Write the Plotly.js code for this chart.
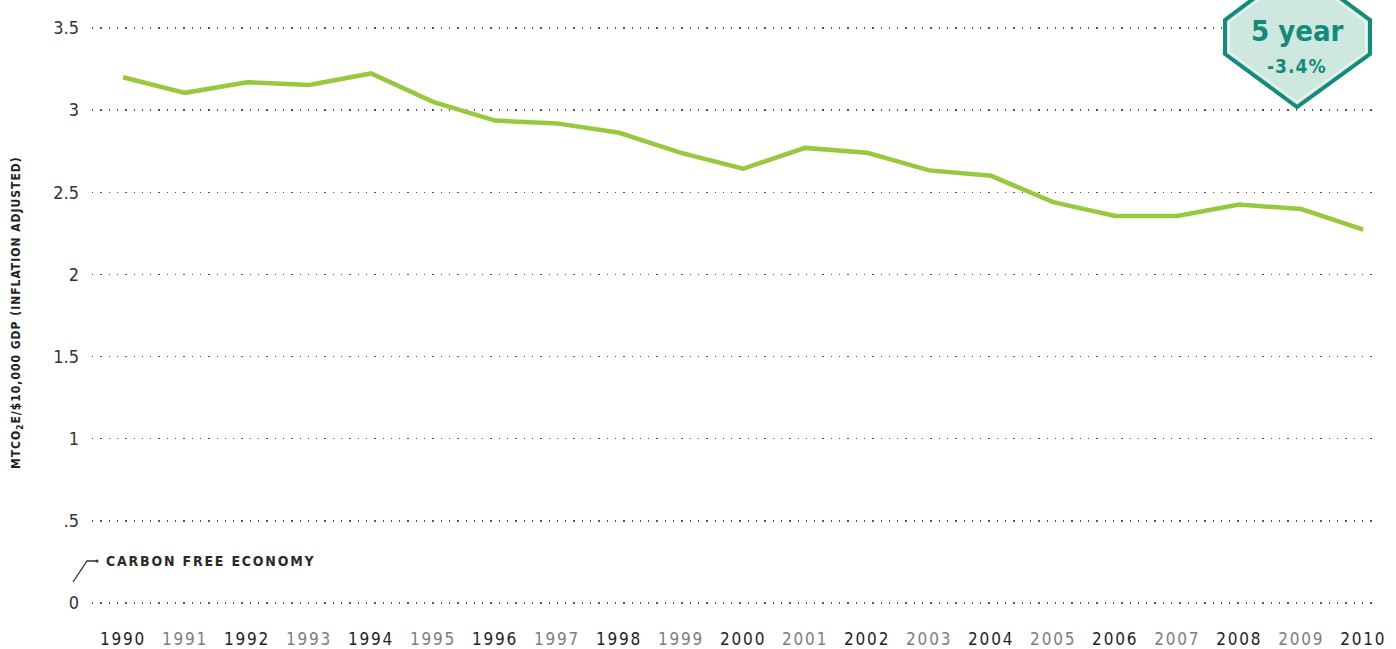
<!DOCTYPE html>
<html><head><meta charset="utf-8">
<script src="https://cdn.plot.ly/plotly-3.0.1.min.js"></script>
<style>html,body{margin:0;padding:0;background:#fff}#chart{width:1396px;height:649px}</style>
</head><body><div id="chart"></div>
<script>
var years = [1990,1991,1992,1993,1994,1995,1996,1997,1998,1999,2000,2001,2002,2003,2004,2005,2006,2007,2008,2009,2010];
var intensity = [3.20,3.105,3.17,3.153,3.223,3.05,2.936,2.919,2.862,2.74,2.643,2.77,2.74,2.633,2.60,2.44,2.356,2.356,2.425,2.398,2.273];
var yTickVals = [0,0.5,1,1.5,2,2.5,3,3.5];
var yTickText = ['0','.5','1','1.5','2','2.5','3','3.5'];
var xTickText = years.map(function(y,i){
  var c = (i%2===0) ? '#1e1e1e' : '#7d7d7d';
  return '<span style="fill:'+c+';letter-spacing:1.8px">'+y+'</span>';
});
var badgeTitle = '5 year';
var badgeValue = '-3.4%';
var baseFont = "'DejaVu Sans Condensed', 'DejaVu Sans', sans-serif";

function px(X){return (X-92)/1283;}
function py(Y){return (608-Y)/585;}
function path(pts){return 'M'+pts.map(function(p){return px(p[0])+','+py(p[1]);}).join(' L')+' Z';}

var trace = {
  x: years, y: intensity, type:'scatter', mode:'lines',
  line:{color:'#96c93d', width:4.5, shape:'linear'},
  hoverinfo:'skip'
};

var layout = {
  width:1396, height:649,
  margin:{l:92, r:21, t:23, b:41},
  paper_bgcolor:'#fff', plot_bgcolor:'#fff',
  showlegend:false,
  xaxis:{
    range:[1989.5, 2010.19], tickvals:years, ticktext:xTickText,
    showgrid:false, zeroline:false, showline:false,
    ticks:'', ticklabelstandoff:19,
    tickfont:{family:baseFont, size:17, color:'#1e1e1e', stretch:'condensed'}
  },
  yaxis:{
    range:[-0.03,3.53], tickvals:yTickVals, ticktext:yTickText,
    showgrid:true, gridcolor:'#555', gridwidth:1.3, griddash:'1.3,7',
    zeroline:false, showline:false, ticks:'', ticklabelstandoff:12,
    tickfont:{family:baseFont, size:18, color:'#333', stretch:'condensed'}
  },
  shapes:[
    {type:'path', xref:'paper', yref:'paper',
     path:path([[1297,-34],[1370,20],[1370,54],[1297,107],[1225,54],[1225,20]]),
     fillcolor:'#cfe8df', line:{color:'#138a7b', width:4}},
    {type:'path', xref:'paper', yref:'paper',
     path:path([[1297,-29],[1366,22],[1366,52],[1297,102],[1229,52],[1229,22]]),
     fillcolor:'rgba(0,0,0,0)', line:{color:'#ffffff', width:1}},
    {type:'path', xref:'paper', yref:'paper',
     path:'M'+px(73)+','+py(582)+' L'+px(87)+','+py(561)+' L'+px(97)+','+py(561),
     line:{color:'#333', width:1.3}},
    {type:'circle', xref:'paper', yref:'paper',
     x0:px(95.5), x1:px(98.5), y0:py(562.5), y1:py(559.5),
     fillcolor:'#333', line:{color:'#333', width:0}}
  ],
  annotations:[
    {xref:'paper', yref:'paper', x:px(17), y:py(313), textangle:-90,
     text:'<span style="letter-spacing:1px">MTCO<sub>2</sub>E/$10,000 GDP (INFLATION ADJUSTED)</span>',
     showarrow:false, font:{family:baseFont, size:12, color:'#222', weight:'bold', stretch:'condensed'},
     xanchor:'center', yanchor:'middle'},
    {xref:'paper', yref:'paper', x:px(104), y:py(561),
     text:'<span style="letter-spacing:1.8px">CARBON FREE ECONOMY</span>',
     showarrow:false, font:{family:baseFont, size:14, color:'#2a2a2a', weight:'bold', stretch:'condensed'},
     xanchor:'left', yanchor:'middle'},
    {xref:'paper', yref:'paper', x:px(1297), y:py(31),
     text:badgeTitle, showarrow:false,
     font:{family:baseFont, size:29, color:'#138a7b', weight:'bold', stretch:'condensed'},
     xanchor:'center', yanchor:'middle'},
    {xref:'paper', yref:'paper', x:px(1297), y:py(66),
     text:'<span style="letter-spacing:1px">'+badgeValue+'</span>', showarrow:false,
     font:{family:baseFont, size:19, color:'#138a7b', weight:'bold', stretch:'condensed'},
     xanchor:'center', yanchor:'middle'}
  ]
};

Plotly.newPlot('chart', [trace], layout, {displayModeBar:false, staticPlot:true});
</script></body></html>
